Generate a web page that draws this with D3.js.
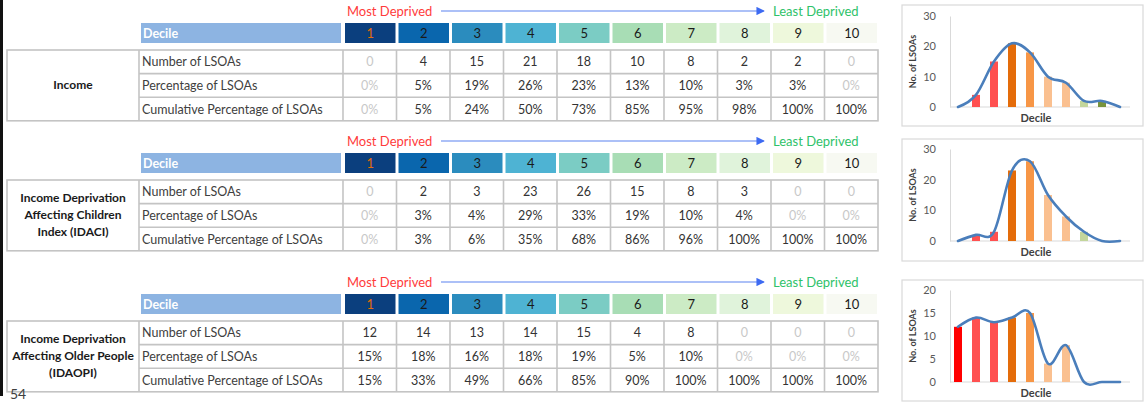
<!DOCTYPE html>
<html>
<head>
<meta charset="utf-8">
<script src="https://cdn.jsdelivr.net/npm/d3@7"></script>
<style>
body { margin: 0; background: #fff; }
svg { display: block; font-family: Lato, "Liberation Sans", sans-serif; }
</style>
</head>
<body>
<script>
var width = 1146, height = 407;

// data
var deciles = [1, 2, 3, 4, 5, 6, 7, 8, 9, 10];
var rowLabels = ["Number of LSOAs", "Percentage of LSOAs", "Cumulative Percentage of LSOAs"];

var incomeCounts = [0, 4, 15, 21, 18, 10, 8, 2, 2, 0];
var incomePct = [0, 5, 19, 26, 23, 13, 10, 3, 3, 0];
var incomeCum = [0, 5, 24, 50, 73, 85, 95, 98, 100, 100];

var idaciCounts = [0, 2, 3, 23, 26, 15, 8, 3, 0, 0];
var idaciPct = [0, 3, 4, 29, 33, 19, 10, 4, 0, 0];
var idaciCum = [0, 3, 6, 35, 68, 86, 96, 100, 100, 100];

var idaopiCounts = [12, 14, 13, 14, 15, 4, 8, 0, 0, 0];
var idaopiPct = [15, 18, 16, 18, 19, 5, 10, 0, 0, 0];
var idaopiCum = [15, 33, 49, 66, 85, 90, 100, 100, 100, 100];

var headerColors = ["#0b3f7e", "#0a66ad", "#2b8cbe", "#4eb3d3", "#7bccc4", "#a8ddb5", "#ccebc5", "#e0f3db", "#eef8dc", "#f7f9f2"];
var barColors = ["#ff0000", "#ff5050", "#ff5050", "#e46c0a", "#f79646", "#fac090", "#fac090", "#c3d69b", "#77933c", "#4f6228"];

var svg = d3.select("body").append("svg").attr("width", width).attr("height", height);

svg.append("defs").append("marker")
    .attr("id", "arrow").attr("viewBox", "0 0 10 10").attr("refX", 9).attr("refY", 5)
    .attr("markerWidth", 7).attr("markerHeight", 7).attr("orient", "auto")
    .append("path").attr("d", "M0,0L10,5L0,10Z").attr("fill", "#3d6af2");

// left black strip
svg.append("rect").attr("x", 0).attr("y", 0).attr("width", 3).attr("height", 396).attr("fill", "#111");

var col = d3.scaleBand().domain(deciles).range([343, 878]);
var gridColor = "#c4c4c4";

function drawSection(y0, title, counts, pct, cum) {
    var g = svg.append("g").attr("transform", "translate(0," + y0 + ")");

    // direction caption
    g.append("text").attr("x", 347).attr("y", 16).attr("fill", "#ff3b3b").attr("font-size", 13).text("Most Deprived");
    g.append("line").attr("x1", 441).attr("x2", 764).attr("y1", 11).attr("y2", 11)
        .attr("stroke", "#5b82f0").attr("stroke-width", 1.2).attr("marker-end", "url(#arrow)");
    g.append("text").attr("x", 773).attr("y", 16).attr("fill", "#2fc26a").attr("font-size", 13).text("Least Deprived");

    // header row
    g.append("rect").attr("x", 141).attr("y", 23).attr("width", 200).attr("height", 20).attr("fill", "#8db4e2");
    g.append("text").attr("x", 143).attr("y", 37.5).attr("fill", "#fff").attr("font-weight", "bold").attr("font-size", 12.5).text("Decile");
    g.selectAll(".hd").data(deciles).enter().append("rect")
        .attr("x", function(d){ return col(d) + 2; })
        .attr("y", 23).attr("width", col.bandwidth() - 3).attr("height", 20)
        .attr("fill", function(d, i){ return headerColors[i]; });
    g.selectAll(".ht").data(deciles).enter().append("text")
        .attr("x", function(d){ return col(d) + col.bandwidth() / 2 + 0.5; })
        .attr("y", 38).attr("text-anchor", "middle").attr("font-size", 13)
        .attr("fill", function(d){ return d == 1 ? "#e46c0a" : "#1a1a1a"; })
        .text(function(d){ return d; });

    // table grid
    var top = 50, rh = 23.6;
    g.append("rect").attr("x", 7).attr("y", top).attr("width", 871).attr("height", rh * 3)
        .attr("fill", "none").attr("stroke", gridColor).attr("stroke-width", 1.6);
    g.append("line").attr("x1", 139).attr("x2", 139).attr("y1", top).attr("y2", top + rh * 3)
        .attr("stroke", gridColor).attr("stroke-width", 1.6);
    deciles.forEach(function(d){
        g.append("line").attr("x1", col(d)).attr("x2", col(d)).attr("y1", top).attr("y2", top + rh * 3)
            .attr("stroke", gridColor).attr("stroke-width", 1.6);
    });
    [1, 2].forEach(function(r){
        g.append("line").attr("x1", 139).attr("x2", 878).attr("y1", top + rh * r).attr("y2", top + rh * r)
            .attr("stroke", gridColor).attr("stroke-width", 1.6);
    });

    // section title
    var tt = g.append("text").attr("x", 73).attr("text-anchor", "middle").attr("font-weight", "bold")
        .attr("font-size", 12).attr("fill", "#1a1a1a");
    var y1 = top + rh * 1.5 + 4 - (title.length - 1) * 8.5;
    title.forEach(function(t, i){
        tt.append("tspan").attr("x", 73).attr("y", y1 + i * 17).text(t);
    });

    // rows
    var rows = [counts, pct, cum];
    rows.forEach(function(vals, r){
        var cy = top + rh * r + rh / 2 + 4.5;
        g.append("text").attr("x", 142).attr("y", cy).attr("font-size", 12.5).attr("fill", "#404040").text(rowLabels[r]);
        g.selectAll(".v" + r).data(vals).enter().append("text")
            .attr("x", function(d, i){ return col(deciles[i]) + col.bandwidth() / 2; })
            .attr("y", cy).attr("text-anchor", "middle").attr("font-size", 12.5)
            .attr("fill", function(d){ return d == 0 ? "#c8c8c8" : "#333"; })
            .text(function(d){ return r == 0 ? d : d + "%"; });
    });
}

function drawChart(boxTop, boxBottom, y0, yTop, yMax, step, counts) {
    var g = svg.append("g");
    g.append("rect").attr("x", 902).attr("y", boxTop).attr("width", 241).attr("height", boxBottom - boxTop)
        .attr("fill", "#fff").attr("stroke", "#d9d9d9").attr("stroke-width", 1.2);

    var x = d3.scaleBand().domain(deciles).range([949, 1129]);
    var y = d3.scaleLinear().domain([0, yMax]).range([y0, yTop]);

    var yAxis = g.append("g").attr("transform", "translate(950,0)")
        .call(d3.axisLeft(y).tickValues(d3.range(0, yMax + 1, step)).tickSize(0).tickPadding(14));
    yAxis.select(".domain").attr("stroke", "#d9d9d9");
    yAxis.selectAll("text").attr("font-size", 11).attr("fill", "#595959").attr("font-family", "Lato, sans-serif");

    g.append("line").attr("x1", 950).attr("x2", 1130).attr("y1", y0).attr("y2", y0).attr("stroke", "#d9d9d9");

    g.selectAll(".bar").data(counts).enter().append("rect")
        .attr("x", function(d, i){ return x(deciles[i]) + x.bandwidth() / 2 - 4; })
        .attr("y", function(d){ return y(d); })
        .attr("width", 8)
        .attr("height", function(d){ return y0 - y(d); })
        .attr("fill", function(d, i){ return barColors[i]; });

    var line = d3.line()
        .x(function(d, i){ return x(deciles[i]) + x.bandwidth() / 2; })
        .y(function(d){ return y(d); })
        .curve(d3.curveCardinal.tension(0));
    g.append("path").datum(counts).attr("d", line).attr("fill", "none")
        .attr("stroke", "#4a7ebb").attr("stroke-width", 2.6).attr("stroke-linecap", "round");

    g.append("text").attr("transform", "translate(916," + ((y0 + yTop) / 2) + ") rotate(-90)")
        .attr("text-anchor", "middle").attr("font-size", 9).attr("font-weight", "bold").attr("fill", "#404040")
        .text("No. of LSOAs");
    g.append("text").attr("x", 1036).attr("y", y0 + 15).attr("text-anchor", "middle")
        .attr("font-size", 11).attr("font-weight", "bold").attr("fill", "#404040").text("Decile");
}

drawSection(0, ["Income"], incomeCounts, incomePct, incomeCum);
drawSection(130, ["Income Deprivation", "Affecting Children", "Index (IDACI)"], idaciCounts, idaciPct, idaciCum);
drawSection(271, ["Income Deprivation", "Affecting Older People", "(IDAOPI)"], idaopiCounts, idaopiPct, idaopiCum);

drawChart(5, 126, 107, 16, 30, 10, incomeCounts);
drawChart(139, 261, 241, 149, 30, 10, idaciCounts);
drawChart(280, 401, 382, 290, 20, 5, idaopiCounts);

svg.append("text").attr("x", 10).attr("y", 399).attr("font-size", 14).attr("fill", "#404040").text("54");
</script>
</body>
</html>
